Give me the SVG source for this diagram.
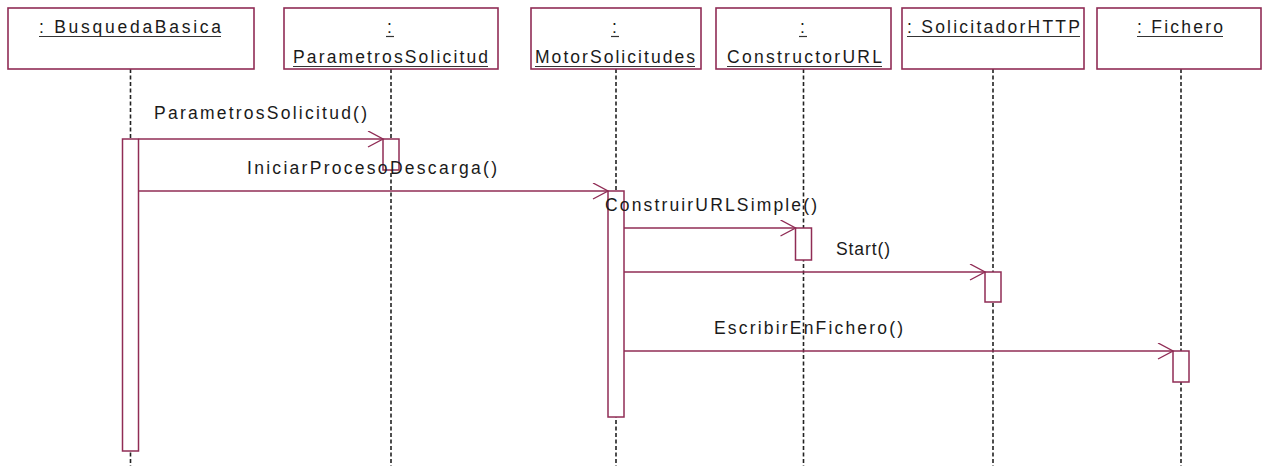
<svg xmlns="http://www.w3.org/2000/svg" width="1266" height="466" viewBox="0 0 1266 466">
<style>
.obj{fill:#fff;stroke:#902c55;stroke-width:1.6}
.life{stroke:#222;stroke-width:1.6;stroke-dasharray:4 2.5;fill:none}
.act{fill:#fff;stroke:#902c55;stroke-width:1.5}
.msg{stroke:#902c55;stroke-width:1.4;fill:none}
.ul{stroke:#333;stroke-width:1.2}
.t{font-family:"Liberation Sans",Arial,sans-serif;font-size:17.5px;fill:#1a1a1a}
</style>
<defs>
<marker id="open" markerUnits="userSpaceOnUse" markerWidth="20" markerHeight="20" refX="16" refY="8" orient="auto">
<path d="M1,0 L16,8 L1,16" fill="none" stroke="#902c55" stroke-width="1.4"/>
</marker>
</defs>
<rect width="1266" height="466" fill="#fff"/>

<g id="lifelines">
<line class="life" x1="130.5" y1="69" x2="130.5" y2="466"/>
<line class="life" x1="391" y1="69" x2="391" y2="466"/>
<line class="life" x1="616" y1="69" x2="616" y2="466"/>
<line class="life" x1="803.5" y1="69" x2="803.5" y2="466"/>
<line class="life" x1="993" y1="69" x2="993" y2="466"/>
<line class="life" x1="1181" y1="69" x2="1181" y2="466"/>
</g>

<g id="BusquedaBasica">
<rect class="obj" x="8" y="8" width="246" height="61"/>
<rect class="act" x="122.5" y="139" width="16" height="312"/>
</g>
<g id="ParametrosSolicitud">
<rect class="obj" x="284" y="8" width="214" height="61"/>
<rect class="act" x="383" y="139" width="16" height="31"/>
</g>
<g id="MotorSolicitudes">
<rect class="obj" x="531" y="8" width="170" height="61"/>
<rect class="act" x="608" y="191" width="16" height="226"/>
</g>
<g id="ConstructorURL">
<rect class="obj" x="716" y="8" width="175" height="61"/>
<rect class="act" x="795.5" y="228" width="16" height="32"/>
</g>
<g id="SolicitadorHTTP">
<rect class="obj" x="902" y="8" width="182" height="61"/>
<rect class="act" x="985" y="272" width="16" height="30"/>
</g>
<g id="Fichero">
<rect class="obj" x="1097" y="8" width="164" height="61"/>
<rect class="act" x="1173" y="351" width="16" height="31"/>
</g>

<g id="connectors">
<line class="msg" x1="138.5" y1="139" x2="383" y2="139" marker-end="url(#open)"/>
<line class="msg" x1="138.5" y1="191" x2="608" y2="191" marker-end="url(#open)"/>
<line class="msg" x1="624" y1="228" x2="795.5" y2="228" marker-end="url(#open)"/>
<line class="msg" x1="624" y1="272" x2="985" y2="272" marker-end="url(#open)"/>
<line class="msg" x1="624" y1="351" x2="1173" y2="351" marker-end="url(#open)"/>
</g>

<g id="labels">
<text class="t" x="39" y="33" textLength="182" lengthAdjust="spacing">: BusquedaBasica</text>
<line class="ul" x1="39" y1="36.5" x2="221" y2="36.5"/>
<text class="t" x="387" y="33">:</text>
<line class="ul" x1="386" y1="36.5" x2="394" y2="36.5"/>
<text class="t" x="293" y="63" textLength="195" lengthAdjust="spacing">ParametrosSolicitud</text>
<line class="ul" x1="293" y1="66.5" x2="488" y2="66.5"/>
<text class="t" x="612" y="33">:</text>
<line class="ul" x1="611" y1="36.5" x2="619" y2="36.5"/>
<text class="t" x="535" y="63" textLength="160" lengthAdjust="spacing">MotorSolicitudes</text>
<line class="ul" x1="535" y1="66.5" x2="695" y2="66.5"/>
<text class="t" x="800" y="33">:</text>
<line class="ul" x1="799" y1="36.5" x2="807" y2="36.5"/>
<text class="t" x="727" y="63" textLength="155" lengthAdjust="spacing">ConstructorURL</text>
<line class="ul" x1="727" y1="66.5" x2="882" y2="66.5"/>
<text class="t" x="907" y="33" textLength="173" lengthAdjust="spacing">: SolicitadorHTTP</text>
<line class="ul" x1="907" y1="36.5" x2="1080" y2="36.5"/>
<text class="t" x="1137" y="33" textLength="86" lengthAdjust="spacing">: Fichero</text>
<line class="ul" x1="1137" y1="36.5" x2="1223" y2="36.5"/>

<text class="t" x="154" y="119" textLength="213" lengthAdjust="spacing">ParametrosSolicitud()</text>
<text class="t" x="247" y="174" textLength="250" lengthAdjust="spacing">IniciarProcesoDescarga()</text>
<text class="t" x="605" y="211" textLength="212" lengthAdjust="spacing">ConstruirURLSimple()</text>
<text class="t" x="836" y="255" textLength="54" lengthAdjust="spacing">Start()</text>
<text class="t" x="714" y="334" textLength="189" lengthAdjust="spacing">EscribirEnFichero()</text>
</g>
</svg>
